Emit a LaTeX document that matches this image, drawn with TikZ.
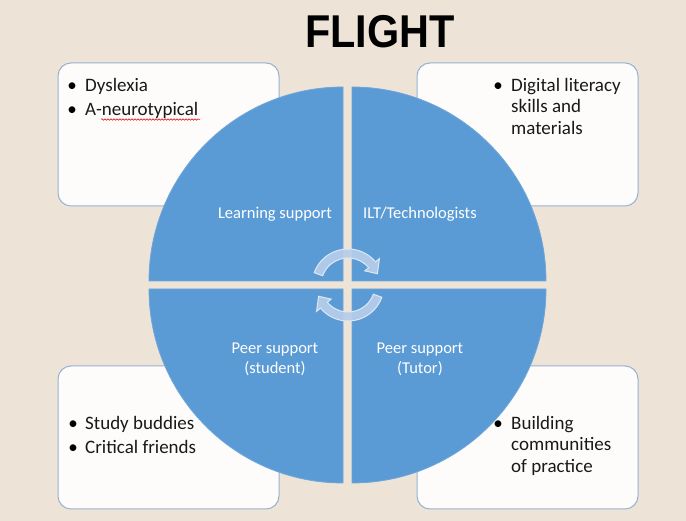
\documentclass[tikz,border=0pt]{standalone}
\usepackage{fontspec}
\setmainfont{Carlito}
\newfontfamily\titlefont{Liberation Sans}
\usetikzlibrary{decorations.pathmorphing}
\definecolor{bgbeige}{RGB}{237,228,215}
\definecolor{quadblue}{RGB}{91,155,213}
\definecolor{quadedge}{RGB}{110,166,218}
\definecolor{boxedge}{RGB}{150,178,210}
\definecolor{boxfill}{RGB}{253,252,250}
\definecolor{arrowfill}{RGB}{183,205,234}
\definecolor{arrowedge}{RGB}{222,232,245}
\begin{document}
\begin{tikzpicture}[x=1pt,y=1pt,
  infobox/.style={draw=boxedge, line width=1pt, fill=boxfill, rounded corners=13pt},
  quad/.style={fill=quadblue, draw=quadedge, line width=0.8pt},
  cyc/.style={fill=arrowfill, fill opacity=0.92, draw=arrowedge, line width=1pt},
  quadlabel/.style={text=white, font=\fontsize{16.5}{19}\selectfont, inner sep=0pt},
  bul/.style={anchor=base, inner sep=0pt, font=\fontsize{19}{22}\selectfont},
  itemtext/.style={anchor=base west, inner sep=0pt, font=\fontsize{19}{22}\selectfont, text=black!90}]
\useasboundingbox (0,0) rectangle (686,521);
\fill[bgbeige] (0,0) rectangle (686,521);
% title
\node[font=\titlefont\bfseries\fontsize{46}{50}\selectfont, inner sep=0pt] (title) at (380,489) {\scalebox{0.9}[1]{FLIGHT}};
% boxes
\draw[infobox] (58,315) rectangle (279,458);
\draw[infobox] (417,315) rectangle (638,458);
\draw[infobox] (58,12) rectangle (279,155);
\draw[infobox] (417,12) rectangle (638,155);
% quadrants
\draw[quad] (343,240) -- ++(180:194) arc[start angle=180, end angle=90, radius=194] -- cycle;
\draw[quad] (352,240) -- ++(90:194) arc[start angle=90, end angle=0, radius=194] -- cycle;
\draw[quad] (343,232) -- ++(180:194) arc[start angle=180, end angle=270, radius=194] -- cycle;
\draw[quad] (352,232) -- ++(0:194) arc[start angle=0, end angle=-90, radius=194] -- cycle;
% quadrant labels
\node[quadlabel] (ls) at (275,307) {Learning support};
\node[quadlabel] (ilt) at (420,307) {ILT/Technologists};
\node[quadlabel] (ps1) at (275,171) {Peer support};
\node[quadlabel] (ps1b) at (275,152) {(student)};
\node[quadlabel] (ps2) at (420,171) {Peer support};
\node[quadlabel] (ps2b) at (420,152) {(Tutor)};
% cycle arrows
\begin{scope}[shift={(348,236)}]
\draw[cyc] (160:36) arc[start angle=160, end angle=40, radius=36] -- (40:41) -- (21:31.5) -- (40:22) -- (40:27) arc[start angle=40, end angle=160, radius=27] -- cycle;
\draw[cyc] (-20:36) arc[start angle=-20, end angle=-140, radius=36] -- (-140:41) -- (-159:31.5) -- (-140:22) -- (-140:27) arc[start angle=-140, end angle=-20, radius=27] -- cycle;
\end{scope}
% top-left box text
\node[bul] (b1) at (72,429) {\textbullet};
\node[itemtext] (t1) at (85,429) {Dyslexia};
\node[bul] (b2) at (72,405) {\textbullet};
\node[itemtext] (t2) at (85,405) {A-neurotypical};
\draw[red!85!black, line width=0.5pt, decorate, decoration={snake, amplitude=0.8pt, segment length=3pt}] (101,401.5) -- (200,401.5);
% top-right box text
\node[bul] (b3) at (498,429) {\textbullet};
\node[itemtext] (t3) at (511,429) {Digital literacy};
\node[itemtext] (t3b) at (511,408) {skills and};
\node[itemtext] (t3c) at (511,386) {materials};
% bottom-left box text
\node[bul] (b4) at (73,91) {\textbullet};
\node[itemtext] (t4) at (85,91) {Study buddies};
\node[bul] (b5) at (73,67) {\textbullet};
\node[itemtext] (t5) at (85,67) {Critical friends};
% bottom-right box text
\node[bul] (b6) at (498,91) {\textbullet};
\node[itemtext] (t6) at (511,91) {Building};
\node[itemtext] (t6b) at (511,70) {communities};
\node[itemtext] (t6c) at (511,48) {of practice};
\end{tikzpicture}
\end{document}
